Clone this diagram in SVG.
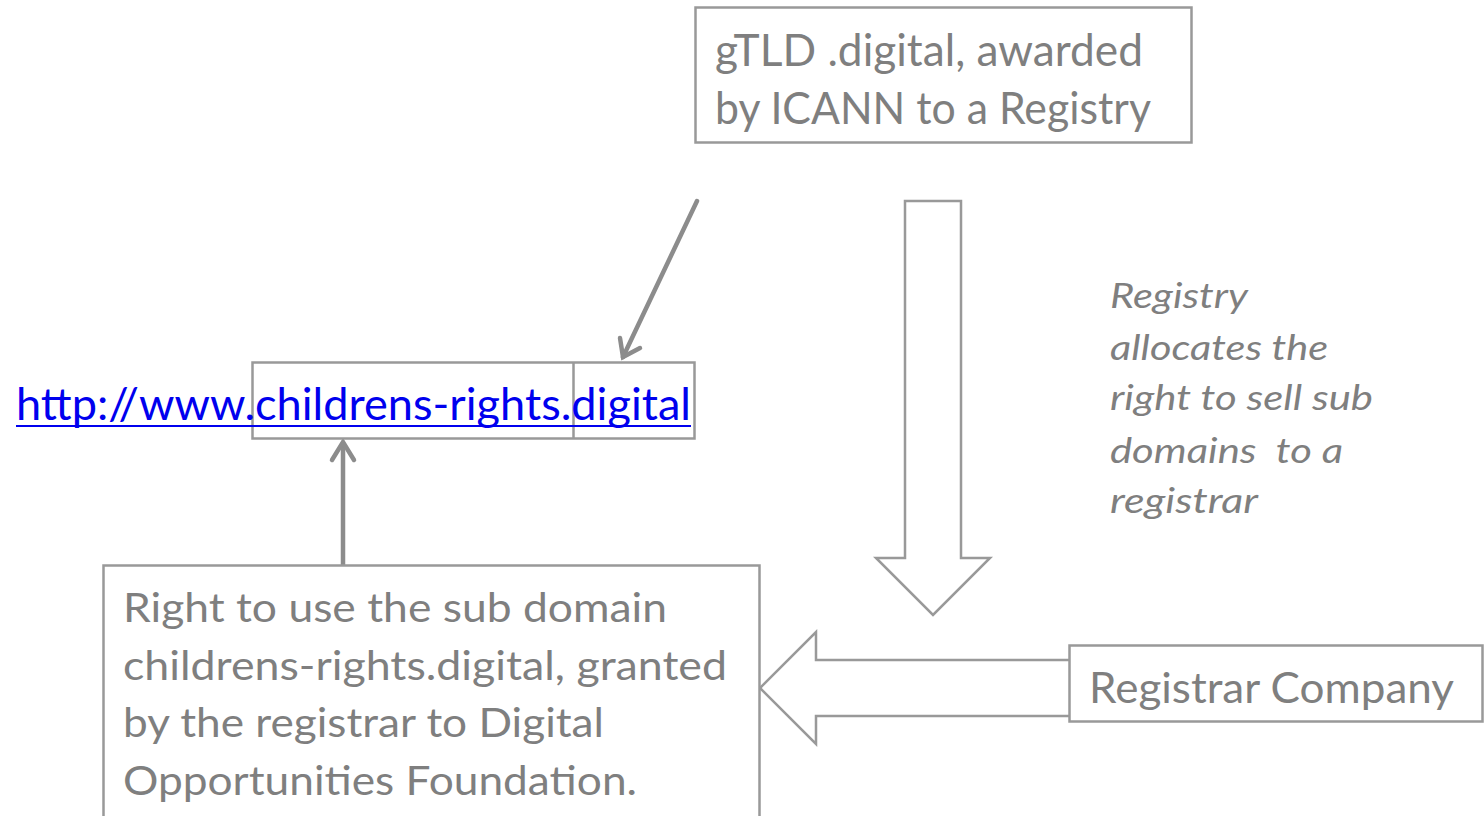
<svg xmlns="http://www.w3.org/2000/svg" width="1484" height="816" viewBox="0 0 1484 816">
<style>
.box{fill:#fff;stroke:#999;stroke-width:2.5}
.t{font-family:Lato,"Open Sans",sans-serif;fill:#7f7f7f}
.it{font-style:italic}
.ln{stroke:#8c8c8c;stroke-width:4.5;fill:none;stroke-linecap:round;stroke-linejoin:miter}
.blk{fill:#fff;stroke:#999;stroke-width:2.5;stroke-linejoin:miter}
.url{font-family:Lato,"Open Sans",sans-serif;fill:#0000ee}
</style>
<rect width="1484" height="816" fill="#fff"/>
<g id="connectors">
<path class="ln" d="M697,201 L623,357"/>
<path class="ln" d="M620,338 L623,357 L640,348"/>
<path class="ln" d="M343,565 L343,443"/>
<path class="ln" d="M332,460 L343,442 L354,460"/>
<path class="blk" d="M905,201 L961,201 L961,558 L990,558 L933,615 L876,558 L905,558 Z"/>
<path class="blk" d="M1069,660 L816,660 L816,632 L760,688 L816,744 L816,716 L1069,716"/>
</g>
<g id="gtld">
<rect class="box" x="695.5" y="7.5" width="496" height="135"/>
<text class="t" font-size="44" x="715" y="66" textLength="428" lengthAdjust="spacingAndGlyphs">gTLD .digital, awarded</text>
<text class="t" font-size="44" x="715" y="124" textLength="436" lengthAdjust="spacingAndGlyphs">by ICANN to a Registry</text>
</g>
<g id="url">
<rect x="252.5" y="362.5" width="442" height="76" fill="none" stroke="#999" stroke-width="2.5"/>
<line x1="573.5" y1="362" x2="573.5" y2="439" stroke="#999" stroke-width="2.5"/>
<text class="url" font-size="44" x="16" y="420" textLength="675" lengthAdjust="spacingAndGlyphs">http://www.childrens-rights.digital</text>
<line x1="16" y1="426" x2="691" y2="426" stroke="#0000ee" stroke-width="2"/>
</g>
<g id="registry-note">
<text class="t it" font-size="35" xml:space="preserve"><tspan x="1110" y="308" textLength="138" lengthAdjust="spacingAndGlyphs">Registry</tspan><tspan x="1110" y="360" textLength="218" lengthAdjust="spacingAndGlyphs">allocates the</tspan><tspan x="1110" y="410" textLength="263" lengthAdjust="spacingAndGlyphs">right to sell sub</tspan><tspan x="1110" y="463" textLength="233" lengthAdjust="spacingAndGlyphs">domains  to a</tspan><tspan x="1110" y="513" textLength="148" lengthAdjust="spacingAndGlyphs">registrar</tspan></text>
</g>
<g id="registrar">
<rect class="box" x="1069.5" y="645.5" width="413" height="76"/>
<text class="t" font-size="42" x="1089" y="703" textLength="365" lengthAdjust="spacingAndGlyphs">Registrar Company</text>
</g>
<g id="right-to-use">
<rect class="box" x="103.5" y="565.5" width="656" height="260"/>
<text class="t" font-size="41">
<tspan x="123" y="622" textLength="544" lengthAdjust="spacingAndGlyphs">Right to use the sub domain</tspan>
<tspan x="123" y="680" textLength="604" lengthAdjust="spacingAndGlyphs">childrens-rights.digital, granted</tspan>
<tspan x="123" y="737" textLength="481" lengthAdjust="spacingAndGlyphs">by the registrar to Digital</tspan>
<tspan x="123" y="795" textLength="514" lengthAdjust="spacingAndGlyphs">Opportunities Foundation.</tspan>
</text>
</g>
</svg>
